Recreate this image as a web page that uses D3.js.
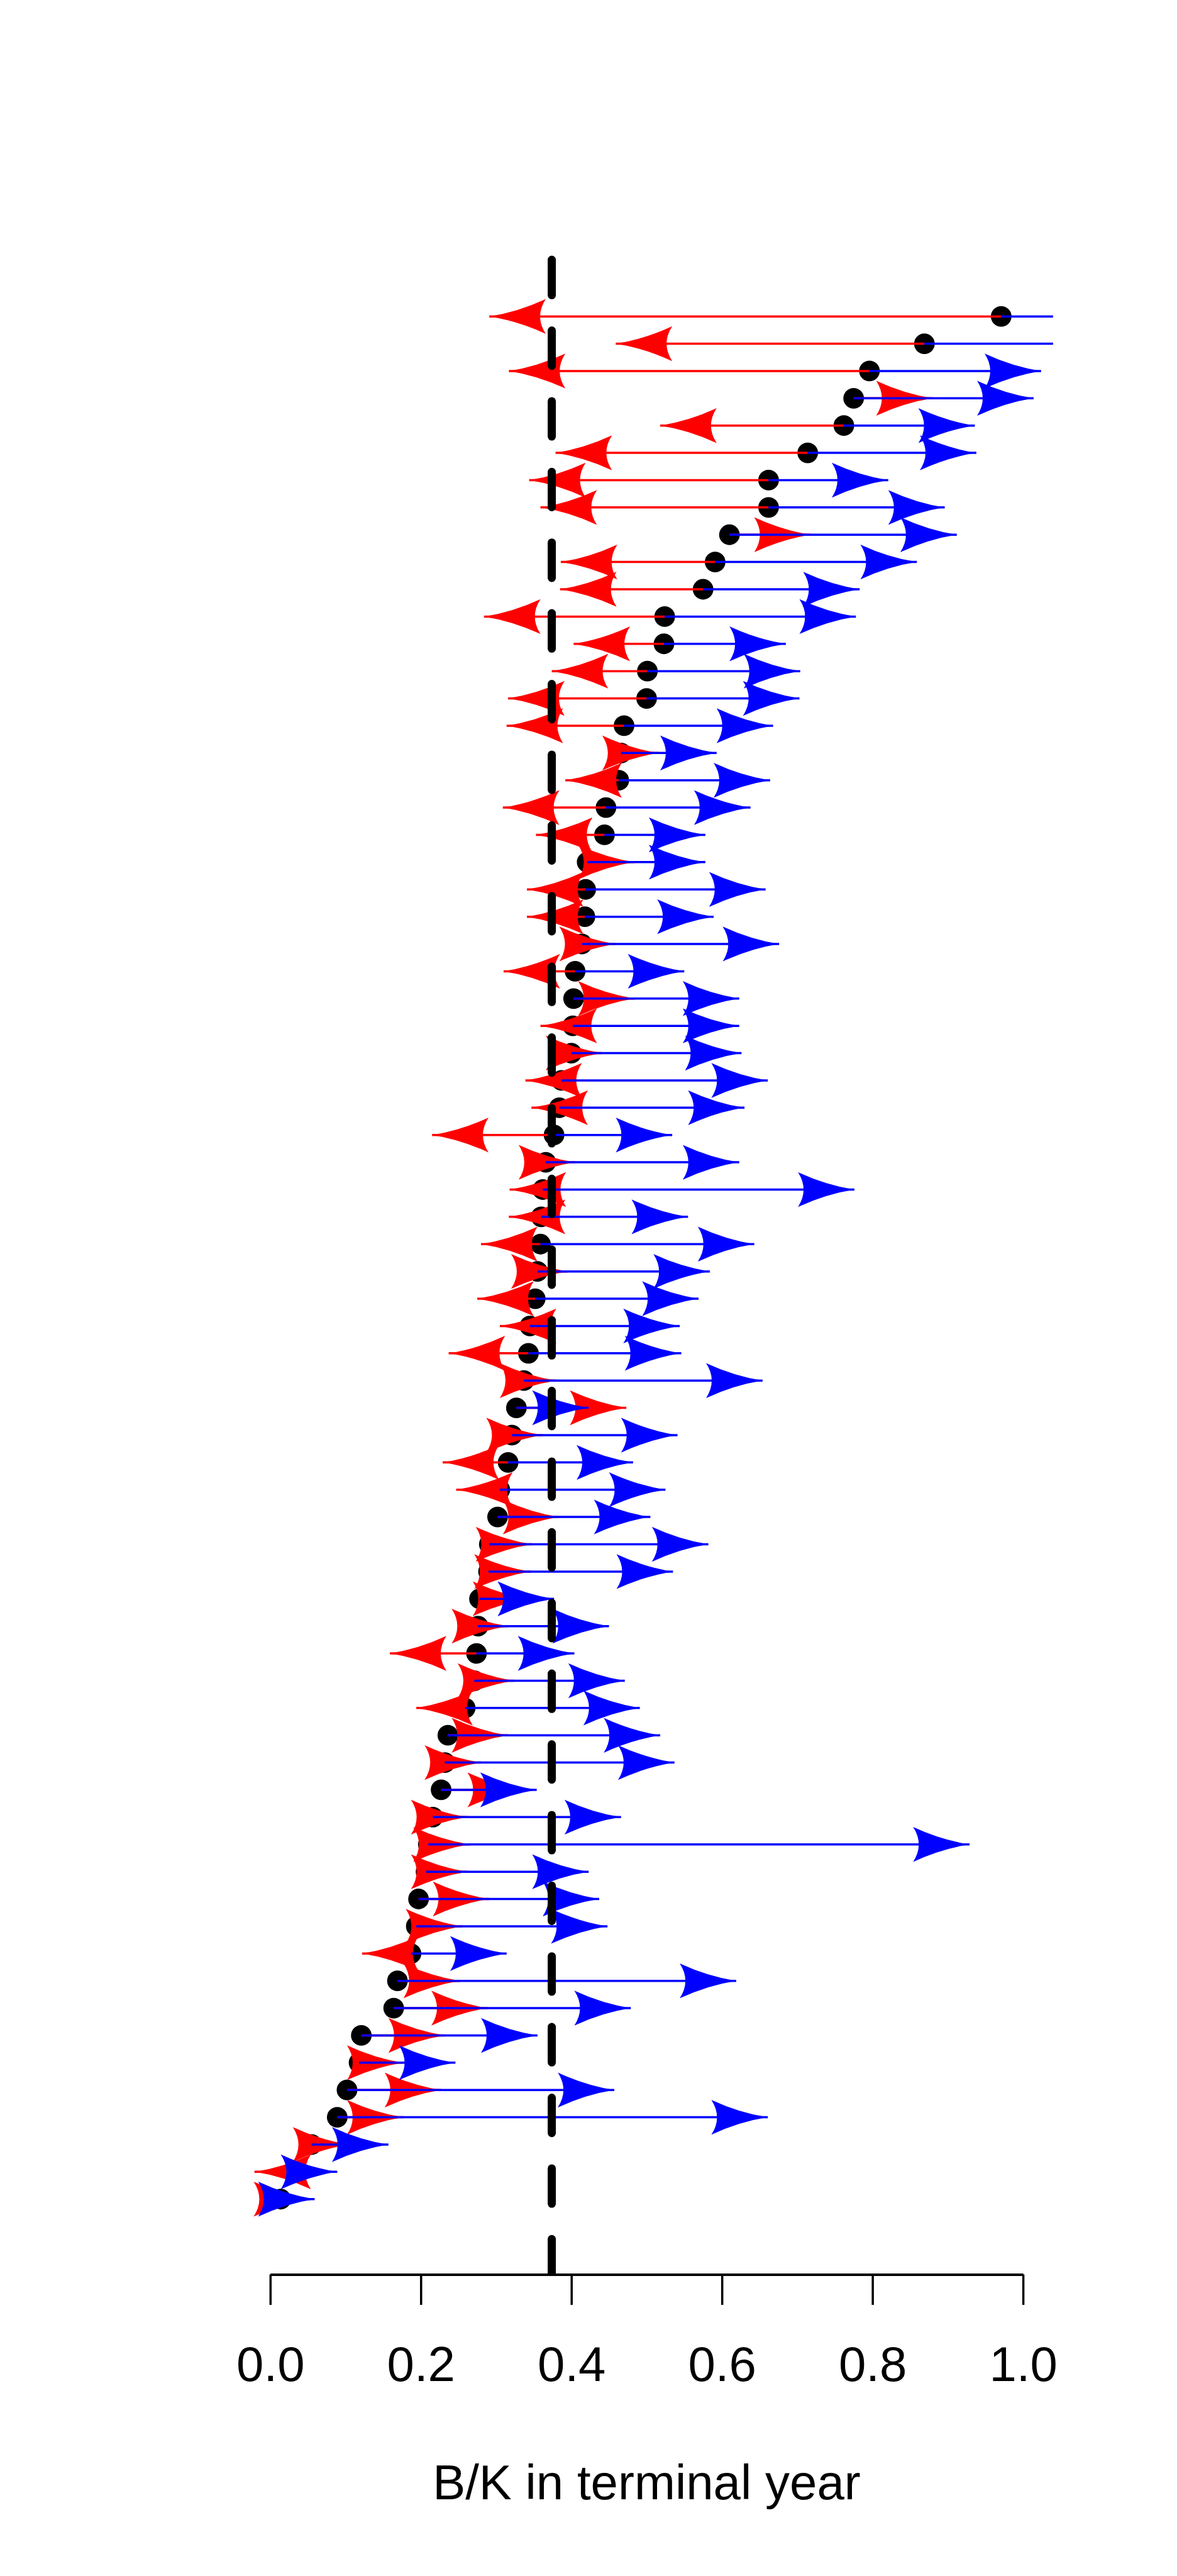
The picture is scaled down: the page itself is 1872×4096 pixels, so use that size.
<!DOCTYPE html>
<html><head><meta charset="utf-8">
<script src="https://cdn.jsdelivr.net/npm/d3@7"></script>
<style>html,body{margin:0;padding:0;background:#fff}</style>
</head><body>
<script>
// B/K in terminal year (black dots), top row first
const bkTerminal = [0.971,0.869,0.796,0.775,0.762,0.714,0.662,0.662,0.610,0.591,
  0.575,0.524,0.523,0.501,0.500,0.470,0.466,0.463,0.446,0.444,
  0.421,0.419,0.418,0.414,0.405,0.403,0.402,0.400,0.387,0.384,
  0.377,0.366,0.362,0.360,0.359,0.355,0.352,0.345,0.343,0.337,
  0.327,0.321,0.316,0.305,0.302,0.291,0.290,0.278,0.276,0.274,
  0.271,0.259,0.236,0.232,0.227,0.216,0.210,0.207,0.197,0.194,
  0.187,0.169,0.164,0.121,0.118,0.102,0.089,0.055,0.030,0.014];
// red arrow end points
const redEnd = [0.291,0.459,0.317,0.880,0.518,0.379,0.344,0.359,0.718,0.386,
  0.385,0.284,0.403,0.374,0.316,0.314,0.516,0.392,0.309,0.353,
  0.484,0.341,0.341,0.459,0.310,0.484,0.359,0.441,0.339,0.347,
  0.215,0.405,0.318,0.317,0.280,0.395,0.275,0.305,0.237,0.380,
  0.473,0.362,0.229,0.247,0.384,0.348,0.346,0.344,0.316,0.159,
  0.324,0.194,0.316,0.280,0.337,0.262,0.265,0.262,0.291,0.255,
  0.122,0.252,0.289,0.232,0.177,0.227,0.177,0.105,-0.021,0.053];
// blue arrow end points
const blueEnd = [1.150,1.150,1.024,1.014,0.936,0.938,0.821,0.896,0.912,0.859,
  0.783,0.778,0.685,0.704,0.703,0.668,0.593,0.664,0.638,0.578,
  0.578,0.658,0.589,0.676,0.550,0.623,0.623,0.626,0.661,0.630,
  0.534,0.623,0.776,0.555,0.643,0.584,0.569,0.544,0.546,0.654,
  0.423,0.541,0.482,0.525,0.505,0.582,0.535,0.377,0.450,0.404,
  0.471,0.491,0.518,0.537,0.354,0.466,0.929,0.423,0.437,0.448,
  0.314,0.619,0.479,0.355,0.246,0.457,0.661,0.157,0.089,0.059];
const xTicks = [0, 0.2, 0.4, 0.6, 0.8, 1.0];
const xTickLabels = ["0.0", "0.2", "0.4", "0.6", "0.8", "1.0"];
const refLine = 0.374;
const xTitle = "B/K in terminal year";

(function () {
const W = 1872, H = 4096;
const FONT = "'Liberation Sans', Arial, Helvetica, sans-serif";
const svg = d3.select("body").append("svg")
  .attr("width", W).attr("height", H)
  .attr("viewBox", `0 0 ${W} ${H}`);

const n = bkTerminal.length;
const x = d3.scaleLinear().domain([0, 1]).range([429.8, 1627.1]);
const pad = 0.04 * (n - 1);
const y = d3.scaleLinear().domain([1 - pad, n + pad]).range([3616.5, 383.4]);
const rowY = i => y(n - i);

const pL = x(-0.04), pR = x(1.04), pT = y(n + pad), pB = y(1 - pad);

svg.append("defs").append("clipPath").attr("id", "plotclip")
  .append("rect").attr("x", pL).attr("y", pT)
  .attr("width", pR - pL).attr("height", pB - pT);

const plot = svg.append("g").attr("clip-path", "url(#plotclip)");

const rows = bkTerminal.map((v, i) => ({i, bk: v, red: redEnd[i], blue: blueEnd[i]}));

// dots
plot.append("g").selectAll("circle").data(rows).join("circle")
  .attr("cx", d => x(d.bk)).attr("cy", d => rowY(d.i))
  .attr("r", 16.4).attr("fill", "#000");

const headL = x(0.075) - x(0);
const headH = 27.7;
const headPath = `M0,0 Q${-0.5*headL},${-0.25*headH} ${-headL},${-headH} ` +
  `Q${-0.8*headL},0 ${-headL},${headH} Q${-0.5*headL},${0.25*headH} 0,0 Z`;

function drawArrows(key, color) {
  const g = plot.append("g");
  g.selectAll("line").data(rows).join("line")
    .attr("x1", d => x(d.bk)).attr("x2", d => x(d[key]))
    .attr("y1", d => rowY(d.i)).attr("y2", d => rowY(d.i))
    .attr("stroke", color).attr("stroke-width", 3.5);
  g.selectAll("path").data(rows).join("path")
    .attr("d", headPath)
    .attr("transform", d => `translate(${x(d[key])},${rowY(d.i)}) scale(${d[key] >= d.bk ? 1 : -1},1)`)
    .attr("fill", color);
}
drawArrows("red", "#FF0000");
drawArrows("blue", "#0000FF");

// reference dashed line, drawn from bottom upward
plot.append("path")
  .attr("d", `M${x(refLine)},${pB} L${x(refLine)},${pT}`)
  .attr("stroke", "#000").attr("stroke-width", 13)
  .attr("stroke-dasharray", "56.2,56.2").attr("stroke-linecap", "round")
  .attr("fill", "none");

// x axis
const axis = d3.axisBottom(x).tickValues(xTicks)
  .tickFormat((d, i) => xTickLabels[i]).tickSize(48.4).tickSizeOuter(0);
const ax = svg.append("g").attr("transform", `translate(0,${pB})`).call(axis);
ax.select(".domain").attr("stroke", "#000").attr("stroke-width", 4);
ax.selectAll(".tick line").attr("stroke", "#000").attr("stroke-width", 3.5);
ax.selectAll(".tick text").attr("y", 169.5).attr("dy", 0)
  .attr("font-family", FONT).attr("font-size", 78).attr("fill", "#000");

svg.append("text").attr("x", x(0.5)).attr("y", 3974)
  .attr("text-anchor", "middle").attr("font-family", FONT)
  .attr("font-size", 78).attr("fill", "#000").text(xTitle);
})();
</script>
</body></html>
